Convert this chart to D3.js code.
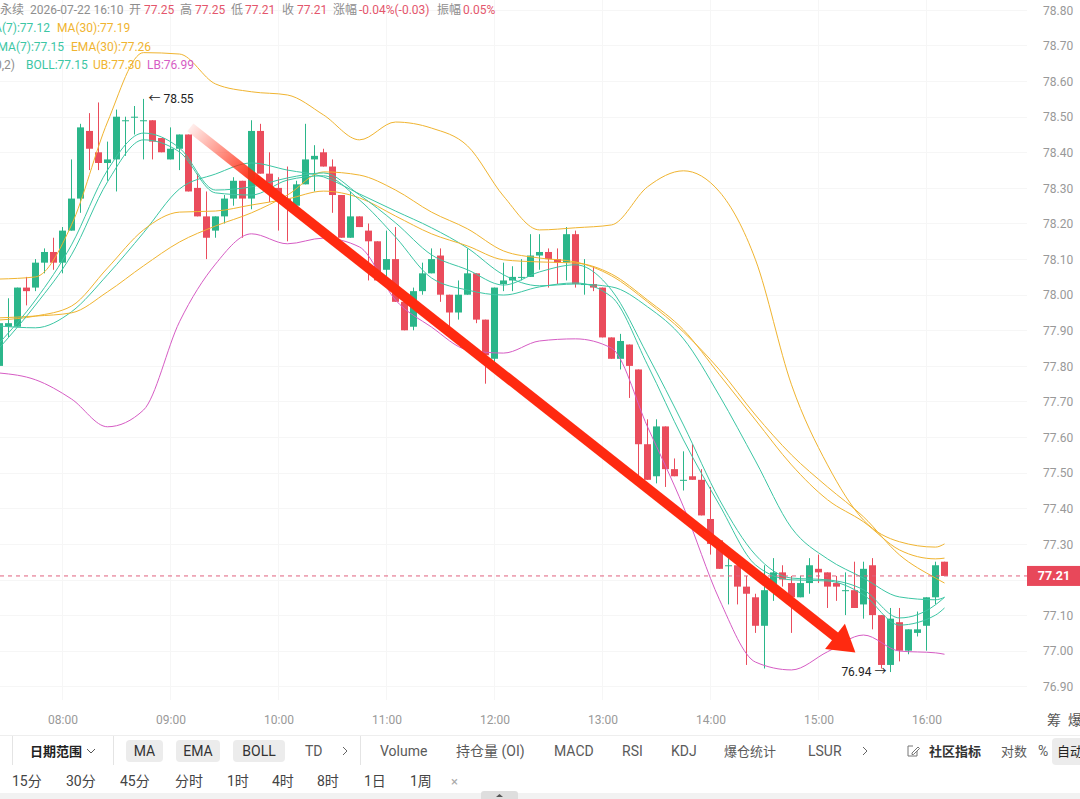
<!DOCTYPE html>
<html>
<head>
<meta charset="utf-8">
<script src="https://cdn.jsdelivr.net/npm/d3@7"></script>
<style>
html, body { margin: 0; padding: 0; background: #fff; }
svg { display: block; font-family: Roboto, "Noto Sans CJK SC", sans-serif; }
</style>
</head>
<body>
<svg id="chart" width="1080" height="799"></svg>
<script>
// 5 minute candles, first one at 07:25
const START = '2026-07-22 07:25';

const opens = [
    77.80, 77.91, 77.91, 78.02, 78.02, 78.09, 78.12, 78.09, 78.18, 78.27,
    78.46, 78.40, 78.37, 78.38, 78.49, 78.50, 78.49, 78.49, 78.44, 78.38,
    78.41, 78.45, 78.30, 78.22, 78.18, 78.22, 78.27, 78.32, 78.27, 78.46,
    78.34, 78.30, 78.27, 78.25, 78.31, 78.38, 78.40, 78.36, 78.28, 78.16,
    78.22, 78.18, 78.15, 78.07, 78.10, 77.98, 77.91, 78.01, 78.06, 78.11,
    78.00, 77.95, 78.00, 78.06, 77.93, 77.82, 78.03, 78.04, 78.05, 78.05,
    78.11, 78.12, 78.10, 78.09, 78.17, 78.03, 78.03, 78.02, 77.88, 77.82,
    77.86, 77.79, 77.58, 77.49, 77.63, 77.51, 77.48, 77.49, 77.48, 77.37,
    77.31, 77.24, 77.24, 77.18, 77.15, 77.07, 77.17, 77.22, 77.19, 77.15,
    77.19, 77.23, 77.22, 77.19, 77.17, 77.17, 77.13, 77.24, 77.10, 76.96,
    77.08, 77.00, 77.05, 77.07, 77.15, 77.25
];
const highs = [
    77.93, 77.99, 78.02, 78.05, 78.10, 78.13, 78.16, 78.19, 78.38, 78.48,
    78.51, 78.54, 78.43, 78.52, 78.50, 78.53, 78.55, 78.49, 78.44, 78.47,
    78.45, 78.45, 78.34, 78.29, 78.22, 78.28, 78.33, 78.32, 78.49, 78.48,
    78.40, 78.33, 78.36, 78.32, 78.48, 78.42, 78.41, 78.38, 78.28, 78.29,
    78.22, 78.20, 78.15, 78.18, 78.19, 77.98, 78.02, 78.09, 78.13, 78.13,
    78.00, 78.04, 78.13, 78.06, 77.93, 78.02, 78.09, 78.08, 78.10, 78.17,
    78.17, 78.13, 78.13, 78.19, 78.18, 78.10, 78.08, 78.02, 77.88, 77.89,
    77.86, 77.79, 77.65, 77.65, 77.63, 77.54, 77.56, 77.58, 77.51, 77.46,
    77.31, 77.26, 77.24, 77.21, 77.16, 77.24, 77.26, 77.24, 77.21, 77.21,
    77.26, 77.27, 77.22, 77.21, 77.22, 77.25, 77.25, 77.26, 77.10, 77.12,
    77.12, 77.06, 77.11, 77.15, 77.25, 77.25
];
const lows = [
    77.79, 77.88, 77.91, 77.97, 78.01, 78.06, 78.07, 78.06, 78.18, 78.23,
    78.35, 78.35, 78.32, 78.29, 78.39, 78.45, 78.38, 78.38, 78.40, 78.38,
    78.35, 78.29, 78.22, 78.10, 78.16, 78.20, 78.25, 78.16, 78.24, 78.34,
    78.26, 78.18, 78.15, 78.24, 78.31, 78.29, 78.36, 78.23, 78.16, 78.16,
    78.19, 78.04, 78.04, 78.04, 77.98, 77.90, 77.90, 78.00, 78.06, 77.98,
    77.90, 77.93, 78.00, 77.92, 77.75, 77.78, 78.01, 78.01, 78.04, 78.05,
    78.07, 78.02, 78.03, 78.04, 78.02, 78.00, 78.01, 77.88, 77.82, 77.79,
    77.71, 77.48, 77.48, 77.47, 77.46, 77.49, 77.45, 77.48, 77.38, 77.27,
    77.23, 77.13, 77.13, 76.96, 77.05, 76.95, 77.14, 77.18, 77.05, 77.15,
    77.16, 77.19, 77.12, 77.14, 77.10, 77.12, 77.09, 77.06, 76.95, 76.94,
    76.97, 76.99, 77.04, 77.00, 77.13, 77.21
];
const closes = [
    77.92, 77.92, 78.02, 78.01, 78.09, 78.12, 78.09, 78.18, 78.27, 78.47,
    78.41, 78.37, 78.38, 78.50, 78.49, 78.50, 78.49, 78.43, 78.40, 78.41,
    78.45, 78.29, 78.22, 78.16, 78.22, 78.27, 78.32, 78.27, 78.46, 78.34,
    78.30, 78.27, 78.25, 78.31, 78.38, 78.39, 78.36, 78.28, 78.16, 78.22,
    78.19, 78.15, 78.04, 78.10, 77.98, 77.90, 78.01, 78.06, 78.10, 78.00,
    77.95, 78.00, 78.06, 77.93, 77.83, 78.02, 78.04, 78.05, 78.05, 78.11,
    78.12, 78.10, 78.09, 78.17, 78.03, 78.03, 78.02, 77.88, 77.82, 77.87,
    77.80, 77.58, 77.48, 77.63, 77.51, 77.49, 77.48, 77.48, 77.38, 77.30,
    77.23, 77.24, 77.18, 77.16, 77.07, 77.17, 77.22, 77.20, 77.15, 77.19,
    77.24, 77.22, 77.18, 77.18, 77.17, 77.12, 77.23, 77.10, 76.96, 77.09,
    77.00, 77.06, 77.06, 77.15, 77.24, 77.21
];

// indicator lines at every 4th candle
const lineIdx = [0, 4, 8, 12, 16, 20, 24, 28, 32, 36, 40, 44, 48, 52, 56, 60, 64, 68, 72, 76, 80, 84, 88, 92, 96, 100, 104, 105];
const ma7 = [77.851, 77.971, 78.112, 78.317, 78.435, 78.401, 78.286, 78.280, 78.322, 78.334, 78.266, 78.162, 78.047, 78.013, 77.999, 78.022, 78.033, 77.994, 77.803, 77.592, 77.409, 77.241, 77.199, 77.196, 77.157, 77.072, 77.100, 77.12];
const ema7 = [77.865, 77.985, 78.140, 78.350, 78.454, 78.412, 78.294, 78.303, 78.328, 78.342, 78.280, 78.202, 78.112, 78.070, 78.027, 78.064, 78.084, 78.013, 77.831, 77.634, 77.424, 77.269, 77.204, 77.199, 77.171, 77.092, 77.129, 77.15];
const ma30 = [77.935, 77.940, 77.949, 78.008, 78.081, 78.148, 78.193, 78.230, 78.280, 78.345, 78.336, 78.294, 78.232, 78.185, 78.123, 78.103, 78.092, 78.053, 77.980, 77.895, 77.789, 77.662, 77.550, 77.460, 77.376, 77.269, 77.204, 77.19];
const ema30 = [77.929, 77.940, 77.968, 78.075, 78.182, 78.232, 78.235, 78.252, 78.269, 78.291, 78.272, 78.221, 78.171, 78.137, 78.098, 78.092, 78.089, 78.058, 77.985, 77.901, 77.775, 77.648, 77.522, 77.424, 77.362, 77.283, 77.258, 77.26];
const boll = [77.912, 77.907, 77.952, 78.056, 78.174, 78.297, 78.339, 78.370, 78.350, 78.331, 78.283, 78.235, 78.188, 78.131, 78.056, 78.025, 78.030, 78.022, 77.966, 77.876, 77.716, 77.533, 77.345, 77.258, 77.204, 77.151, 77.143, 77.15];
const ub = [78.044, 78.050, 78.196, 78.485, 78.680, 78.676, 78.592, 78.570, 78.561, 78.505, 78.435, 78.485, 78.468, 78.418, 78.277, 78.182, 78.188, 78.196, 78.303, 78.348, 78.289, 78.098, 77.747, 77.522, 77.367, 77.306, 77.291, 77.30];
const lb = [77.780, 77.761, 77.707, 77.629, 77.676, 77.924, 78.086, 78.171, 78.143, 78.159, 78.134, 77.985, 77.909, 77.845, 77.836, 77.870, 77.876, 77.850, 77.629, 77.404, 77.143, 76.968, 76.946, 76.997, 77.044, 76.999, 76.994, 76.99];

// hand drawn trend arrow (candle index, price)
const arrowFrom = [21.2, 78.47];
const arrowTo = [95.1, 76.995];

const yTicks = d3.range(0, 20).map(i => +(76.9 + i * 0.1).toFixed(2));
const hours = d3.range(8, 17);

const GRAY = '#8e8e8e';
const VAL_RED = '#e4566c';
const TEAL = '#3cc6a4';
const ORANGE = '#f0b430';
const MAGENTA = '#d65cc4';
const UP = '#2bb68a';
const DOWN = '#ea4c5c';

const parse = d3.timeParse('%Y-%m-%d %H:%M');
const t0 = parse(START);
const timeAt = i => new Date(+t0 + i * 5 * 60000);
const times = opens.map((d, i) => timeAt(i));
const hourTicks = hours.map(h => parse(`2026-07-22 ${String(h).padStart(2, '0')}:00`));

const x = d3.scaleTime()
    .domain([hourTicks[0], hourTicks[hourTicks.length - 1]])
    .range([62.5, 926.5]);
const y = d3.scaleLinear().domain([76.9, 78.8]).range([686.3, 9.9]);

const svg = d3.select('#chart');
const PLOT_RIGHT = 1027;

svg.append('clipPath').attr('id', 'plotClip')
    .append('rect').attr('x', 0).attr('y', 0).attr('width', PLOT_RIGHT).attr('height', 705);

// faint grid
const grid = svg.append('g').attr('stroke', '#f6f6f6');
grid.selectAll('line.h').data(yTicks).join('line')
    .attr('x1', 0).attr('x2', PLOT_RIGHT)
    .attr('y1', d => Math.round(y(d)) + 0.5).attr('y2', d => Math.round(y(d)) + 0.5);
grid.selectAll('line.v').data(hourTicks).join('line')
    .attr('y1', 0).attr('y2', 700)
    .attr('x1', d => x(d)).attr('x2', d => x(d));

const plot = svg.append('g').attr('clip-path', 'url(#plotClip)');

// candles
const candle = plot.append('g').selectAll('g').data(d3.range(opens.length)).join('g')
    .attr('fill', i => closes[i] >= opens[i] ? UP : DOWN)
    .attr('stroke', i => closes[i] >= opens[i] ? UP : DOWN);
candle.append('line')
    .attr('x1', i => x(times[i])).attr('x2', i => x(times[i]))
    .attr('y1', i => y(highs[i])).attr('y2', i => y(lows[i]))
    .attr('stroke-width', 1);
candle.append('rect')
    .attr('x', i => x(times[i]) - 3.5)
    .attr('width', 7)
    .attr('y', i => y(Math.max(opens[i], closes[i])))
    .attr('height', i => Math.max(1, Math.abs(y(opens[i]) - y(closes[i]))))
    .attr('stroke', 'none');

// indicator lines
const line = d3.line()
    .x(d => x(timeAt(d[0])))
    .y(d => y(d[1]))
    .curve(d3.curveMonotoneX);
const series = [
    { values: ub, color: ORANGE },
    { values: lb, color: MAGENTA },
    { values: boll, color: TEAL },
    { values: ma30, color: ORANGE },
    { values: ema30, color: ORANGE },
    { values: ma7, color: TEAL },
    { values: ema7, color: TEAL }
];
plot.append('g').selectAll('path').data(series).join('path')
    .attr('d', s => line(lineIdx.map((k, j) => [k, s.values[j]])))
    .attr('fill', 'none')
    .attr('stroke', s => s.color)
    .attr('stroke-width', 1);

// last price line
const n = closes.length - 1;
const lastY = y(closes[n]);
svg.append('line')
    .attr('x1', 0).attr('x2', PLOT_RIGHT)
    .attr('y1', lastY).attr('y2', lastY)
    .attr('stroke', '#e0607e').attr('stroke-dasharray', '4,4');

// high / low markers
const hiIdx = d3.maxIndex(highs);
const loIdx = lows.lastIndexOf(d3.min(lows));
svg.append('text')
    .attr('x', x(times[hiIdx]) + 5).attr('y', y(highs[hiIdx]))
    .attr('dy', '0.35em').attr('font-size', 12).attr('fill', '#222')
    .text('← ' + highs[hiIdx].toFixed(2));
svg.append('text')
    .attr('x', x(times[loIdx]) - 4).attr('y', y(lows[loIdx]))
    .attr('dy', '0.35em').attr('font-size', 12).attr('fill', '#222')
    .attr('text-anchor', 'end')
    .text(lows[loIdx].toFixed(2) + ' →');

// red arrow
const ax0 = x(timeAt(arrowFrom[0])), ay0 = y(arrowFrom[1]);
const ax1 = x(timeAt(arrowTo[0])), ay1 = y(arrowTo[1]);
const len = Math.hypot(ax1 - ax0, ay1 - ay0);
const ux = (ax1 - ax0) / len, uy = (ay1 - ay0) / len;
const HEAD_LEN = 26, HEAD_HALF = 16;
const bx = ax1 - ux * HEAD_LEN, by = ay1 - uy * HEAD_LEN;
const grad = svg.append('defs').append('linearGradient')
    .attr('id', 'arrowGrad').attr('gradientUnits', 'userSpaceOnUse')
    .attr('x1', ax0).attr('y1', ay0).attr('x2', ax1).attr('y2', ay1);
grad.append('stop').attr('offset', 0).attr('stop-color', '#ff2a10').attr('stop-opacity', 0.08);
grad.append('stop').attr('offset', 0.1).attr('stop-color', '#ff2a10').attr('stop-opacity', 1);
grad.append('stop').attr('offset', 1).attr('stop-color', '#ff2a10').attr('stop-opacity', 1);
svg.append('line')
    .attr('x1', ax0).attr('y1', ay0).attr('x2', bx + ux * 2).attr('y2', by + uy * 2)
    .attr('stroke', 'url(#arrowGrad)').attr('stroke-width', 10);
svg.append('path')
    .attr('d', `M${ax1},${ay1}L${bx - uy * HEAD_HALF},${by + ux * HEAD_HALF}L${bx + uy * HEAD_HALF},${by - ux * HEAD_HALF}Z`)
    .attr('fill', '#ff2a10');

// y axis (the label under the price tag is hidden, as in the app)
const visibleTicks = yTicks.filter(t => Math.abs(y(t) - lastY) > 12);
const yAxis = svg.append('g').attr('transform', 'translate(1043,0)')
    .call(d3.axisRight(y).tickValues(visibleTicks).tickFormat(d3.format('.2f')).tickSize(0).tickPadding(0));
yAxis.select('.domain').remove();
yAxis.attr('font-family', null).attr('font-size', null);
yAxis.selectAll('text').attr('fill', '#999').attr('font-size', 12).attr('x', 0).attr('dy', '0.35em');

// last price tag
svg.append('rect').attr('x', PLOT_RIGHT).attr('y', lastY - 10).attr('width', 53).attr('height', 20).attr('fill', '#e8485a');
svg.append('text').attr('x', 1054).attr('y', lastY).attr('dy', '0.35em')
    .attr('text-anchor', 'middle').attr('fill', '#fff').attr('font-size', 12.5).attr('font-weight', 'bold')
    .text(closes[n].toFixed(2));

// x axis
const xAxis = svg.append('g').attr('transform', 'translate(0,720)')
    .call(d3.axisBottom(x).tickValues(hourTicks).tickFormat(d3.timeFormat('%H:%M')).tickSize(0).tickPadding(0));
xAxis.select('.domain').remove();
xAxis.attr('font-family', null).attr('font-size', null);
xAxis.selectAll('text').attr('fill', '#999').attr('font-size', 12).attr('y', 0).attr('dy', '0.35em');
svg.append('text').attr('x', 1047).attr('y', 720).attr('dy', '0.35em').attr('font-size', 14).attr('fill', '#555').text('筹');
svg.append('text').attr('x', 1068).attr('y', 720).attr('dy', '0.35em').attr('font-size', 14).attr('fill', '#555').text('爆');

// header legends
const f2 = d3.format('.2f');
const prev = closes[n - 1];
const chg = closes[n] - prev;
const header = [
    { row: 10, x: 24, anchor: 'end', t: '永续', c: GRAY },
    { row: 10, x: 30, t: d3.timeFormat('%Y-%m-%d %H:%M')(times[n]), c: GRAY },
    { row: 10, x: 129, t: '开', c: GRAY },
    { row: 10, x: 144, t: f2(opens[n]), c: VAL_RED },
    { row: 10, x: 180, t: '高', c: GRAY },
    { row: 10, x: 195, t: f2(highs[n]), c: VAL_RED },
    { row: 10, x: 231, t: '低', c: GRAY },
    { row: 10, x: 245, t: f2(lows[n]), c: VAL_RED },
    { row: 10, x: 282, t: '收', c: GRAY },
    { row: 10, x: 297, t: f2(closes[n]), c: VAL_RED },
    { row: 10, x: 333, t: '涨幅', c: GRAY },
    { row: 10, x: 359, t: `${(chg / prev * 100).toFixed(2)}%(${chg.toFixed(2)})`, c: VAL_RED },
    { row: 10, x: 437, t: '振幅', c: GRAY },
    { row: 10, x: 463, t: `${((highs[n] - lows[n]) / prev * 100).toFixed(2)}%`, c: VAL_RED },
    { row: 28, x: 50, anchor: 'end', t: `MA(7):${f2(ma7[ma7.length - 1])}`, c: TEAL },
    { row: 28, x: 57, t: `MA(30):${f2(ma30[ma30.length - 1])}`, c: ORANGE },
    { row: 46.5, x: 64, anchor: 'end', t: `EMA(7):${f2(ema7[ema7.length - 1])}`, c: TEAL },
    { row: 46.5, x: 71, t: `EMA(30):${f2(ema30[ema30.length - 1])}`, c: ORANGE },
    { row: 65, x: 15, anchor: 'end', t: 'BOLL(20,2)', c: GRAY },
    { row: 65, x: 26, t: `BOLL:${f2(boll[boll.length - 1])}`, c: TEAL },
    { row: 65, x: 93, t: `UB:${f2(ub[ub.length - 1])}`, c: ORANGE },
    { row: 65, x: 147, t: `LB:${f2(lb[lb.length - 1])}`, c: MAGENTA }
];
svg.append('g').selectAll('text').data(header).join('text')
    .attr('x', d => d.x).attr('y', d => d.row).attr('dy', '0.35em')
    .attr('text-anchor', d => d.anchor || 'start')
    .attr('font-size', 12)
    .attr('fill', d => d.c)
    .text(d => d.t);

// toolbar
const bar = svg.append('g');
bar.append('line').attr('x1', 0).attr('x2', 1080).attr('y1', 735.5).attr('y2', 735.5).attr('stroke', '#eeeeee');
[12.5, 113.5, 360.5].forEach(sx => {
    bar.append('line').attr('x1', sx).attr('x2', sx).attr('y1', 736).attr('y2', 765).attr('stroke', '#e4e4e4');
});
const ROW1 = 751;
const pills = [
    { t: 'MA', x0: 126, x1: 163 },
    { t: 'EMA', x0: 176, x1: 220 },
    { t: 'BOLL', x0: 233, x1: 285 }
];
pills.forEach(p => {
    bar.append('rect').attr('x', p.x0).attr('y', 740).attr('width', p.x1 - p.x0).attr('height', 22)
        .attr('rx', 4).attr('fill', '#ececec');
    bar.append('text').attr('x', (p.x0 + p.x1) / 2).attr('y', ROW1).attr('dy', '0.35em')
        .attr('text-anchor', 'middle').attr('font-size', 14).attr('fill', '#333').text(p.t);
});
const row1Items = [
    { t: '日期范围', x: 30, c: '#222', w: 'bold', s: 13 },
    { t: 'TD', x: 305 },
    { t: 'Volume', x: 380 },
    { t: '持仓量 (OI)', x: 456 },
    { t: 'MACD', x: 554 },
    { t: 'RSI', x: 622 },
    { t: 'KDJ', x: 671 },
    { t: '爆仓统计', x: 724, s: 13 },
    { t: 'LSUR', x: 808 },
    { t: '社区指标', x: 929, c: '#333', w: 'bold', s: 13 },
    { t: '对数', x: 1001, s: 13 },
    { t: '%', x: 1038 }
];
bar.append('rect').attr('x', 1052).attr('y', 738).attr('width', 40).attr('height', 27).attr('rx', 4).attr('fill', '#ececec');
row1Items.push({ t: '自动', x: 1057, c: '#222', s: 13 });
bar.selectAll('text.r1').data(row1Items).join('text')
    .attr('x', d => d.x).attr('y', ROW1).attr('dy', '0.35em')
    .attr('font-size', d => d.s || 14)
    .attr('font-weight', d => d.w || 'normal')
    .attr('fill', d => d.c || '#5a5a5a')
    .text(d => d.t);
// chevrons
bar.append('path').attr('d', 'M87,749L91,753L95,749').attr('fill', 'none').attr('stroke', '#555').attr('stroke-width', 1);
[343, 863].forEach(cx => {
    bar.append('path').attr('d', `M${cx},747L${cx + 4},751L${cx},755`).attr('fill', 'none').attr('stroke', '#666').attr('stroke-width', 1);
});
// edit icon
bar.append('path').attr('d', 'M917,751v5h-9v-10h5').attr('fill', 'none').attr('stroke', '#777').attr('stroke-width', 1);
bar.append('path').attr('d', 'M912,753l6,-6l1.5,1.5l-6,6h-1.5z').attr('fill', 'none').attr('stroke', '#777').attr('stroke-width', 1);

const ROW2 = 781;
const periods = [
    { t: '15分', x: 12 }, { t: '30分', x: 66 }, { t: '45分', x: 120 }, { t: '分时', x: 175 },
    { t: '1时', x: 227 }, { t: '4时', x: 272 }, { t: '8时', x: 317 }, { t: '1日', x: 364 },
    { t: '1周', x: 410 }
];
bar.selectAll('text.r2').data(periods).join('text')
    .attr('x', d => d.x).attr('y', ROW2).attr('dy', '0.35em')
    .attr('font-size', 14).attr('fill', '#444').text(d => d.t);
bar.append('text').attr('x', 451).attr('y', ROW2).attr('dy', '0.35em').attr('font-size', 13).attr('fill', '#aaa').text('×');

// bottom strip
bar.append('rect').attr('x', 0).attr('y', 793).attr('width', 1080).attr('height', 6).attr('fill', '#f2f2f2');
bar.append('rect').attr('x', 481).attr('y', 791).attr('width', 37).attr('height', 10).attr('rx', 3).attr('fill', '#dedede');
bar.append('path').attr('d', 'M496,797L499.5,794L503,797Z').attr('fill', '#555');
</script>
</body>
</html>
